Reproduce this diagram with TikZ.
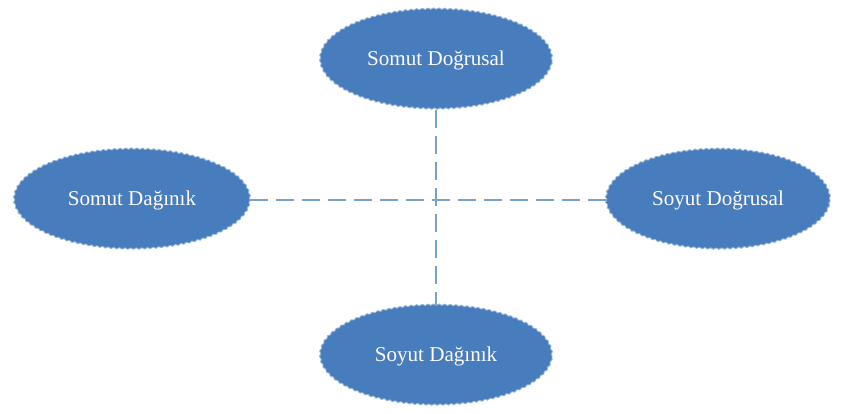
\documentclass[tikz,border=0pt]{standalone}
\usepackage{fontspec}
\setmainfont{Liberation Serif}
\usepackage{xcolor}
\usetikzlibrary{shapes.geometric,decorations.pathmorphing}

\definecolor{ovalblue}{RGB}{72,125,189}
\definecolor{ovaledge}{RGB}{150,182,218}
\definecolor{axisblue}{RGB}{118,162,204}

\begin{document}
\begin{tikzpicture}[>=latex,
  oval/.style={ellipse, fill=ovalblue, draw=ovaledge, line width=0.6pt,
    decorate, decoration={snake, amplitude=0.5pt, segment length=4pt},
    minimum width=5.8cm, minimum height=2.5cm,
    text=white!94!pink, font=\fontsize{15}{17}\selectfont},
  axis/.style={axisblue, line width=2pt, dash pattern=on 0.45cm off 0.2cm}]
  \useasboundingbox (-10.9,-5.325) rectangle (10.175,5);
  \coordinate (O) at (0,0);
  \node [oval, above of=O, node distance=3.5cm] (SD) {Somut Doğrusal};
  \node [oval, below of=O, node distance=3.9cm] (YD) {Soyut Dağınık};
  \node [oval, left of=O, node distance=7.6cm, minimum width=5.9cm] (SG) {Somut Dağınık};
  \node [oval, right of=O, node distance=7.05cm, minimum width=5.6cm] (YG) {Soyut Doğrusal};

  \draw [axis] (SD) -- (YD);
  \draw [axis] (SG) -- (YG);
\end{tikzpicture}
\end{document}
